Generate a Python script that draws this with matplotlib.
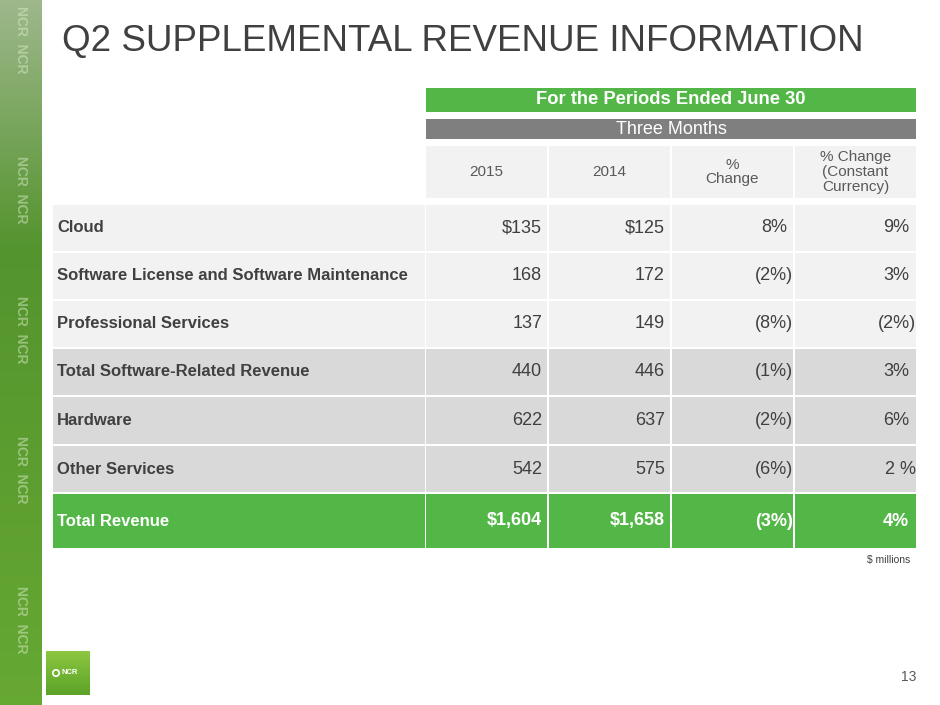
import matplotlib
matplotlib.use("Agg")
import matplotlib.pyplot as plt
from matplotlib.patches import Rectangle, Circle
import numpy as np

plt.rcParams['font.family'] = ['Liberation Sans', 'DejaVu Sans']

# ---- data ----
title = "Q2 SUPPLEMENTAL REVENUE INFORMATION"
period_header = "For the Periods Ended June 30"
sub_header = "Three Months"
col_headers = ["2015", "2014", "%\nChange", "% Change\n(Constant\nCurrency)"]
categories = ["Cloud", "Software License and Software Maintenance", "Professional Services",
              "Total Software-Related Revenue", "Hardware", "Other Services", "Total Revenue"]
rev_2015 = [135, 168, 137, 440, 622, 542, 1604]
rev_2014 = [125, 172, 149, 446, 637, 575, 1658]
pct_change = [8, -2, -8, -1, -2, -6, -3]
pct_change_cc = ["9%", "3%", "(2%)", "3%", "6%", "2 %", "4%"]
row_kind = ["light", "light", "light", "mid", "mid", "mid", "total"]
footnote = "$ millions"
page_no = "13"

# ---- style ----
GREEN = "#53b748"
GRAY_BAR = "#7f7f7f"
LIGHT = "#f2f2f2"
MID = "#d9d9d9"
TXT = "#404040"

W, H = 940, 705
fig = plt.figure(figsize=(W / 100, H / 100), dpi=100)
ax = fig.add_axes([0, 0, 1, 1])
ax.set_xlim(0, W)
ax.set_ylim(H, 0)
ax.axis("off")

# left decorative strip
grad = np.linspace(0, 1, 256)[:, None]
c_top = np.array([0.62, 0.72, 0.55])
c_mid = np.array([0.33, 0.58, 0.18])
c_bot = np.array([0.40, 0.66, 0.20])
cols = np.where(grad < 0.35, c_top + (c_mid - c_top) * (grad / 0.35),
                c_mid + (c_bot - c_mid) * ((grad - 0.35) / 0.65))
img = np.repeat(cols[:, None, :], 2, axis=1).reshape(256, 2, 3)
ax.imshow(img, extent=[0, 42, H, 0], aspect="auto", zorder=1)
for yy in [40, 190, 330, 470, 620]:
    ax.text(21, yy, "NCR  NCR", rotation=-90, ha="center", va="center",
            fontsize=10, fontweight="bold", color="#d9ecc8", alpha=0.5, zorder=2)

# title
ax.text(62, 42, title, fontsize=26.5, color=TXT, ha="left", va="center")

# table geometry
x_label0, x_label1 = 53, 425
col_x = [(426, 547), (549, 670), (672, 793), (795, 916)]
table_x0, table_x1 = 426, 916


def rect(x, y, w, h, c, z=3):
    ax.add_patch(Rectangle((x, y), w, h, facecolor=c, edgecolor="none", lw=0, zorder=z))


# header bars
rect(table_x0, 88, table_x1 - table_x0, 24, GREEN)
ax.text((table_x0 + table_x1) / 2, 100, period_header, color="white", fontsize=13.2,
        fontweight="bold", ha="center", va="center", zorder=4)
rect(table_x0, 119, table_x1 - table_x0, 20, GRAY_BAR)
ax.text((table_x0 + table_x1) / 2, 129.5, sub_header, color="white", fontsize=13,
        ha="center", va="center", zorder=4)

for (x0, x1), h in zip(col_x, col_headers):
    rect(x0, 146, x1 - x0, 52, LIGHT)
    ax.text((x0 + x1) / 2, 172, h, color="#595959", fontsize=11, ha="center",
            va="center", linespacing=1.05, zorder=4)

# rows
row_tops = [205, 253, 301, 349, 397, 446, 494]
row_h = [46, 46, 46, 46, 47, 46, 54]


def money(v, dollar):
    s = f"{v:,}"
    return ("$" + s) if dollar else s


def pct(v):
    return f"({abs(v)}%)" if v < 0 else f"{v}%"


for i, cat in enumerate(categories):
    kind = row_kind[i]
    fc = {"light": LIGHT, "mid": MID, "total": GREEN}[kind]
    y0 = row_tops[i]
    h = row_h[i]
    yc = y0 + h / 2
    rect(x_label0, y0, x_label1 - x_label0, h, fc)
    for (x0, x1) in col_x:
        rect(x0, y0, x1 - x0, h, fc)
    total = kind == "total"
    tc = "white" if total else TXT
    fw = "bold" if total else "normal"
    ax.text(57, yc, cat, fontsize=12, fontweight="bold", color=tc, ha="left",
            va="center", zorder=4)
    dollar = (i == 0) or total
    ax.text(542, yc, money(rev_2015[i], dollar), fontsize=13, color=tc, fontweight=fw,
            ha="right", va="center", zorder=4)
    ax.text(665, yc, money(rev_2014[i], dollar), fontsize=13, color=tc, fontweight=fw,
            ha="right", va="center", zorder=4)
    p = pct(pct_change[i])
    ax.text(793 if p.endswith(")") else 787, yc, p, fontsize=13, color=tc,
            fontweight=fw, ha="right", va="center", zorder=4)
    q = pct_change_cc[i]
    ax.text(916 if (q.endswith(")") or " " in q) else 909, yc, q, fontsize=13,
            color=tc, fontweight=fw, ha="right", va="center", zorder=4)

ax.text(910, 560, footnote, fontsize=7.5, color=TXT, ha="right", va="center")
ax.text(916, 677, page_no, fontsize=10, color="#595959", ha="right", va="center")

# logo
lg = np.linspace(0, 1, 64)[:, None]
c1 = np.array([0.55, 0.78, 0.25])
c2 = np.array([0.36, 0.64, 0.16])
lcols = c1 + (c2 - c1) * lg
limg = np.repeat(lcols[:, None, :], 2, axis=1)
ax.imshow(limg, extent=[46, 90, 695, 651], aspect="auto", zorder=3)
ax.add_patch(Circle((56, 673), 3.2, facecolor="none", edgecolor="white", lw=1.2, zorder=4))
ax.text(61, 673, "NCR", fontsize=5.5, color="white", fontweight="bold",
        ha="left", va="center", zorder=4)

fig.savefig("out.png", dpi=100)
